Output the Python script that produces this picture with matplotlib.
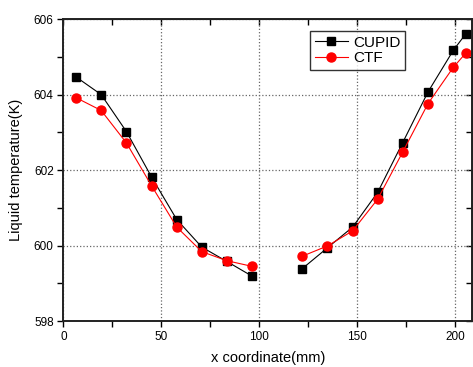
import numpy as np
import matplotlib
matplotlib.use("Agg")
import matplotlib.pyplot as plt
from matplotlib.ticker import MultipleLocator

plt.rcParams["font.family"] = ["Liberation Sans", "DejaVu Sans"]

# x positions (mm) for the two channel sections
x_left = [6.4, 19.3, 32.2, 45.1, 57.9, 70.7, 83.5, 96.4]
x_right = [122.0, 134.8, 147.7, 160.5, 173.3, 186.2, 199.1, 205.5]

cupid_left = [604.47, 604.00, 603.02, 601.81, 600.69, 599.96, 599.58, 599.19]
cupid_right = [599.39, 599.94, 600.49, 601.41, 602.73, 604.07, 605.17, 605.61]

ctf_left = [603.92, 603.58, 602.72, 601.58, 600.49, 599.84, 599.60, 599.45]
ctf_right = [599.72, 599.99, 600.39, 601.23, 602.48, 603.76, 604.72, 605.10]

fig = plt.figure(figsize=(4.73, 3.67), dpi=100)
ax = fig.add_axes([0.134, 0.125, 0.864, 0.823])

# CUPID: black squares
sq = dict(color="black", marker="s", markersize=5.5, linewidth=0.8)
ax.plot(x_left, cupid_left, label="CUPID", **sq)
ax.plot(x_right, cupid_right, **sq)

# CTF: red circles
ci = dict(color="red", marker="o", markersize=6.5, linewidth=0.8)
ax.plot(x_left, ctf_left, label="CTF", **ci)
ax.plot(x_right, ctf_right, **ci)

ax.set_xlim(0, 208.7)
ax.set_ylim(598, 606)
ax.xaxis.set_major_locator(MultipleLocator(50))
ax.xaxis.set_minor_locator(MultipleLocator(25))
ax.yaxis.set_major_locator(MultipleLocator(2))
ax.yaxis.set_minor_locator(MultipleLocator(1))

ax.grid(True, which="major", linestyle=":", color="#666666", linewidth=0.9)

for s in ax.spines.values():
    s.set_linewidth(1.4)
    s.set_color("#222222")

ax.tick_params(which="both", direction="out", length=4, width=1, labelsize=8.5,
               top=False, right=False, pad=3)
# mirrored inward ticks on top and right
ax_top = ax.secondary_xaxis("top")
ax_top.xaxis.set_major_locator(MultipleLocator(50))
ax_top.xaxis.set_minor_locator(MultipleLocator(25))
ax_top.tick_params(which="both", direction="in", length=4, width=1, labeltop=False)
ax_right = ax.secondary_yaxis("right")
ax_right.yaxis.set_major_locator(MultipleLocator(2))
ax_right.yaxis.set_minor_locator(MultipleLocator(1))
ax_right.tick_params(which="both", direction="in", length=4, width=1, labelright=False)

ax.set_xlabel("x coordinate(mm)", fontsize=10.5, labelpad=6)
ax.set_ylabel("Liquid temperature(K)", fontsize=10.5, labelpad=8)

leg = ax.legend(loc="upper left", bbox_to_anchor=(0.585, 0.985), fontsize=11,
                frameon=True, fancybox=False, edgecolor="black",
                handlelength=2.2, borderpad=0.3, labelspacing=0.1, handletextpad=0.3)
leg.get_frame().set_linewidth(1.0)

fig.savefig("out.png", dpi=100)
